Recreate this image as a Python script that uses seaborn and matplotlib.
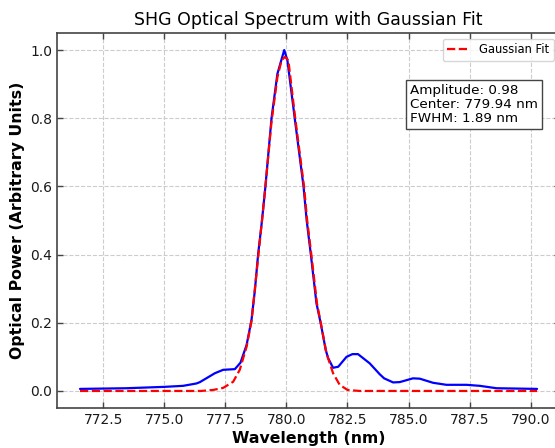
import numpy as np
import pandas as pd
import matplotlib
matplotlib.use("Agg")
import matplotlib.pyplot as plt
import seaborn as sns

wl_meas = [771.55, 773.45, 775.0, 775.77, 776.32, 776.46, 777.07, 777.41, 777.89,
           778.12, 778.37, 778.57, 778.71, 778.84, 779.0, 779.14, 779.39, 779.63,
           779.91, 780.04, 780.34, 780.70, 780.83, 781.0, 781.23, 781.40, 781.61,
           781.71, 781.91, 782.12, 782.46, 782.70, 782.93, 783.41, 783.82, 784.0,
           784.37, 784.64, 785.18, 785.46, 786.0, 786.55, 787.37, 787.92, 788.6, 790.26]
pw_meas = [0.006, 0.008, 0.012, 0.015, 0.022, 0.026, 0.052, 0.062, 0.064,
           0.083, 0.135, 0.208, 0.296, 0.40, 0.50, 0.60, 0.80, 0.93,
           1.0, 0.97, 0.80, 0.60, 0.50, 0.40, 0.257, 0.20, 0.12,
           0.096, 0.068, 0.071, 0.10, 0.108, 0.108, 0.081, 0.049, 0.037,
           0.025, 0.026, 0.037, 0.036, 0.024, 0.018, 0.018, 0.015, 0.008, 0.006]

# gaussian fit curve
wl_fit = [771.55, 776.5, 777.0, 777.41, 777.82, 778.09, 778.37, 778.57, 778.84,
          779.0, 779.14, 779.39, 779.63, 779.8, 779.94, 780.08, 780.36, 780.72,
          780.85, 781.02, 781.25, 781.42, 781.64, 781.91, 782.18, 782.5, 783.0, 790.26]
pw_fit = [0.0, 0.0, 0.003, 0.009, 0.027, 0.062, 0.13, 0.205, 0.39,
          0.50, 0.60, 0.79, 0.92, 0.97, 0.98, 0.97, 0.80, 0.60,
          0.50, 0.40, 0.257, 0.195, 0.11, 0.052, 0.018, 0.003, 0.0, 0.0]

fit_text = "Amplitude: 0.98\nCenter: 779.94 nm\nFWHM: 1.89 nm"

sns.set_style("whitegrid", {
    "grid.linestyle": "--",
    "grid.color": "#cccccc",
    "axes.edgecolor": "#444444",
    "text.color": "black",
    "axes.labelcolor": "black",
    "xtick.direction": "in",
    "ytick.direction": "in",
    "xtick.top": True,
    "ytick.right": True,
    "xtick.bottom": True,
    "ytick.left": True,
})
plt.rcParams["font.family"] = ["DejaVu Sans"]

fig = plt.figure(figsize=(5.55, 4.48), dpi=100)
ax = fig.add_axes([57.3 / 555, 40 / 448, (560 - 57.3) / 555, 375 / 448])

meas = pd.DataFrame({"wl": wl_meas, "pw": pw_meas})
fit = pd.DataFrame({"wl": wl_fit, "pw": pw_fit})

sns.lineplot(data=meas, x="wl", y="pw", color="blue", linewidth=1.6, ax=ax)
sns.lineplot(data=fit, x="wl", y="pw", color="red", linewidth=1.6,
             linestyle="--", label="Gaussian Fit", ax=ax)

ax.set_xlim(770.62, 791.2)
ax.set_ylim(-0.05, 1.05)
ax.set_xticks([772.5, 775.0, 777.5, 780.0, 782.5, 785.0, 787.5, 790.0])
ax.tick_params(labelsize=10, length=4, width=1, color="#444444", labelcolor="#1a1a1a")
for s in ax.spines.values():
    s.set_linewidth(1.2)

ax.set_title("SHG Optical Spectrum with Gaussian Fit", fontsize=12.5, pad=6, color="black")
ax.set_xlabel("Wavelength (nm)", fontsize=11.3, fontweight="bold", labelpad=3, color="black")
ax.set_ylabel("Optical Power (Arbitrary Units)", fontsize=11.3, fontweight="bold", color="black")

ax.text(0.702, 0.864, fit_text, transform=ax.transAxes, fontsize=9.7, color="black",
        va="top", ha="left", linespacing=1.12,
        bbox=dict(facecolor="white", edgecolor="#444444", boxstyle="square,pad=0.3"))

ax.legend(loc="upper right", fontsize=8.3, frameon=True)

fig.savefig("out.png", dpi=100)
